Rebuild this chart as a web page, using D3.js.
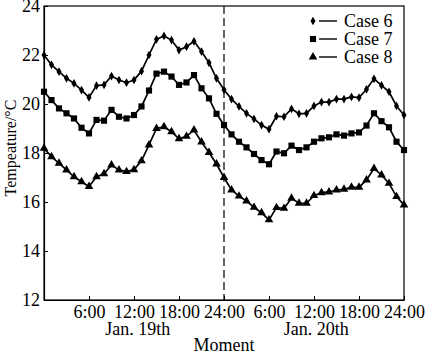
<!DOCTYPE html>
<html>
<head>
<meta charset="utf-8">
<script src="https://cdn.jsdelivr.net/npm/d3@7"></script>
<style>
  body { margin: 0; background: #fff; }
  text { font-family: "Liberation Serif", "Times New Roman", serif; fill: #000; }
</style>
</head>
<body>
<div class="graph"></div>
<script>
// hours from 0:00 Jan. 19th, one reading per hour
var hours = d3.range(0, 49);

var case6 = [22.0, 21.6, 21.32, 21.05, 20.84, 20.57, 20.27, 20.75, 20.78, 21.14, 20.98, 20.87, 20.98,
  21.34, 22.0, 22.64, 22.78, 22.61, 22.2, 22.34, 22.56, 22.14, 21.68, 21.05, 20.58,
  20.2, 19.9, 19.62, 19.39, 19.14, 18.97, 19.5, 19.48, 19.8, 19.6, 19.62, 19.92,
  20.08, 20.08, 20.2, 20.2, 20.29, 20.26, 20.6, 21.03, 20.76, 20.5, 19.92, 19.55];

var case7 = [20.5, 20.16, 19.82, 19.62, 19.41, 19.03, 18.8, 19.35, 19.32, 19.76, 19.48, 19.41, 19.55,
  19.9, 20.55, 21.24, 21.32, 21.12, 20.78, 20.88, 21.18, 20.64, 20.23, 19.6, 19.14,
  18.76, 18.46, 18.23, 17.96, 17.71, 17.54, 18.06, 17.99, 18.3, 18.12, 18.23, 18.46,
  18.6, 18.64, 18.76, 18.71, 18.8, 18.84, 19.12, 19.62, 19.3, 19.05, 18.46, 18.12];

var case8 = [18.19, 17.85, 17.58, 17.31, 17.03, 16.83, 16.63, 17.03, 17.15, 17.51, 17.31, 17.24, 17.32,
  17.68, 18.33, 19.0, 19.07, 18.87, 18.58, 18.68, 18.94, 18.45, 18.02, 17.55, 17.0,
  16.49, 16.24, 16.04, 15.78, 15.56, 15.27, 15.77, 15.74, 16.15, 15.95, 15.95, 16.26,
  16.38, 16.41, 16.49, 16.52, 16.6, 16.6, 16.9, 17.37, 17.1, 16.76, 16.22, 15.88];

var seriesNames = ["Case 6", "Case 7", "Case 8"];
var seriesValues = [case6, case7, case8];
var seriesSymbols = [d3.symbolDiamond, d3.symbolSquare, d3.symbolTriangle];
var symbolSizes = [22, 38, 32];

var xTicks = [6, 12, 18, 24, 30, 36, 42, 48];
var xTickLabels = ["6:00", "12:00", "18:00", "24:00", "6:00", "12:00", "18:00", "24:00"];
var yTicks = [12, 14, 16, 18, 20, 22, 24];
var dayLabels = ["Jan. 19th", "Jan. 20th"];
var dayCenters = [12.5, 36.3];
var dayBreak = 24;

var margin = {top: 6, right: 22, bottom: 54, left: 44},
    width = 426 - margin.left - margin.right,
    height = 354 - margin.top - margin.bottom;

var svg = d3.select("div.graph").append("svg")
    .attr("width", 426)
    .attr("height", 354)
  .append("g")
    .attr("transform", "translate(" + margin.left + "," + margin.top + ")");

var x = d3.scaleLinear().domain([0, 48]).range([0, width]);
var y = d3.scaleLinear().domain([12, 24]).range([height, 0]);

// frame
svg.append("rect")
    .attr("width", width)
    .attr("height", height)
    .attr("fill", "none")
    .attr("stroke", "#000")
    .attr("stroke-width", 1.2);

// x axis, ticks pointing in
var xAxis = svg.append("g")
    .attr("transform", "translate(0," + height + ")")
    .call(d3.axisBottom(x).tickValues(xTicks)
      .tickFormat(function(d, i) { return xTickLabels[i]; })
      .tickSizeInner(-4).tickSizeOuter(0).tickPadding(5));

var yAxis = svg.append("g")
    .call(d3.axisLeft(y).tickValues(yTicks)
      .tickSizeInner(-4).tickSizeOuter(0).tickPadding(4));

[xAxis, yAxis].forEach(function(a) {
  a.select(".domain").attr("stroke", "#000").attr("stroke-width", 1.2);
  a.selectAll(".tick line").attr("stroke", "#000");
  a.selectAll(".tick text")
    .style("font-family", "Liberation Serif")
    .style("font-size", "18px")
    .attr("fill", "#000");
});

// day separator
svg.append("line")
    .attr("x1", x(dayBreak)).attr("x2", x(dayBreak))
    .attr("y1", 0).attr("y2", height)
    .attr("stroke", "#000")
    .attr("stroke-width", 1.2)
    .attr("stroke-dasharray", "8,4");

// the three cases
var line = d3.line()
    .x(function(d, i) { return x(hours[i]); })
    .y(function(d) { return y(d); });

seriesValues.forEach(function(vals, k) {
  svg.append("path")
      .datum(vals)
      .attr("fill", "none")
      .attr("stroke", "#000")
      .attr("stroke-width", 1.7)
      .attr("d", line);

  svg.selectAll(".m" + k)
    .data(vals)
    .enter().append("path")
      .attr("class", "m" + k)
      .attr("transform", function(d, i) { return "translate(" + x(hours[i]) + "," + y(d) + ")"; })
      .attr("d", d3.symbol().type(seriesSymbols[k]).size(symbolSizes[k]))
      .attr("fill", "#000");
});

// legend
var legend = svg.selectAll(".legend")
    .data(seriesNames)
    .enter().append("g")
      .attr("transform", function(d, i) { return "translate(" + (width - 91) + "," + (15 + i * 18) + ")"; });

legend.append("path")
    .attr("d", function(d, i) { return d3.symbol().type(seriesSymbols[i]).size(symbolSizes[i])(); })
    .attr("fill", "#000");
legend.append("line")
    .attr("x1", 6).attr("x2", 24)
    .attr("stroke", "#000").attr("stroke-width", 1.4);
legend.append("text")
    .attr("x", 31)
    .attr("dy", "0.35em")
    .style("font-size", "18px")
    .text(function(d) { return d; });

// day names and axis titles
svg.selectAll(".day")
    .data(dayLabels)
    .enter().append("text")
      .attr("x", function(d, i) { return x(dayCenters[i]); })
      .attr("y", height + 35)
      .attr("text-anchor", "middle")
      .style("font-size", "18px")
      .text(function(d) { return d; });

svg.append("text")
    .attr("x", x(24))
    .attr("y", height + 51)
    .attr("text-anchor", "middle")
    .style("font-size", "18px")
    .text("Moment");

svg.append("text")
    .attr("transform", "translate(" + (-28) + "," + (height / 2 - 5) + ") rotate(-90)")
    .attr("text-anchor", "middle")
    .style("font-size", "16px")
    .text("Tempeature/°C");
</script>
</body>
</html>
